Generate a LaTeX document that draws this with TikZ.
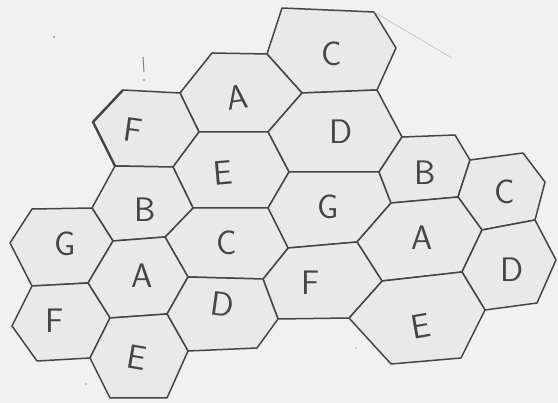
\documentclass[tikz,border=0pt]{standalone}
\usepackage{fontspec}
\definecolor{paper}{HTML}{F1F1F1}
\definecolor{cellfill}{HTML}{E9E9E9}
\definecolor{pencil}{HTML}{454545}
\tikzset{
  hexcell/.style={draw=pencil, fill=cellfill, line width=1.5pt, line join=round},
  letter/.style={text=pencil, font=\sffamily\fontsize{34}{36}\selectfont, inner sep=0pt},
  faint/.style={draw=pencil!40, line width=0.5pt}
}
\begin{document}
\begin{tikzpicture}[x=1pt,y=-1pt]
\fill[paper] (0,0) rectangle (558,403);
\useasboundingbox (0,0) rectangle (558,403);
% vertices
\coordinate (c1) at (282,8);   \coordinate (c2) at (374,12);  \coordinate (c3) at (396,48);
\coordinate (c4) at (377,90);  \coordinate (c5) at (302,93);  \coordinate (c6) at (267,54);
\coordinate (a1) at (212,53);  \coordinate (a4) at (268,132); \coordinate (a5) at (199,132);
\coordinate (a6) at (180,93);
\coordinate (f1) at (123,90);  \coordinate (f4) at (173,167); \coordinate (f5) at (115,166);
\coordinate (f6) at (93,122);
\coordinate (d3) at (402,137); \coordinate (d4) at (379,172); \coordinate (d5) at (289,172);
\coordinate (e4) at (268,208); \coordinate (e5) at (193,208);
\coordinate (g3) at (391,203); \coordinate (g4) at (357,242); \coordinate (g5) at (288,248);
\coordinate (b2) at (455,135); \coordinate (b3) at (470,160); \coordinate (b4) at (458,197);
\coordinate (r2) at (523,153); \coordinate (r3) at (545,182); \coordinate (r4) at (535,220);
\coordinate (r5) at (482,230);
\coordinate (ar4) at (462,272); \coordinate (ar5) at (382,281);
\coordinate (dr3) at (556,260); \coordinate (dr4) at (537,303); \coordinate (dr5) at (485,310);
\coordinate (er4) at (461,358); \coordinate (er5) at (391,364); \coordinate (er6) at (349,318);
\coordinate (fc5) at (278,319); \coordinate (fc6) at (263,279);
\coordinate (cl5) at (188,277); \coordinate (cl6) at (165,237);
\coordinate (bl5) at (113,241); \coordinate (bl6) at (92,208);
\coordinate (gl1) at (32,209);  \coordinate (gl4) at (88,283);  \coordinate (gl5) at (32,286);
\coordinate (gl6) at (10,243);
\coordinate (al4) at (167,314); \coordinate (al5) at (110,318);
\coordinate (dl4) at (257,348); \coordinate (dl5) at (188,351);
\coordinate (fl4) at (90,358);  \coordinate (fl5) at (37,361);  \coordinate (fl6) at (12,326);
\coordinate (el4) at (167,398); \coordinate (el5) at (110,398);
% cells
\draw[hexcell] (c1)--(c2)--(c3)--(c4)--(c5)--(c6)--cycle;
\draw[hexcell] (a1)--(c6)--(c5)--(a4)--(a5)--(a6)--cycle;
\draw[hexcell] (f1)--(a6)--(a5)--(f4)--(f5)--(f6)--cycle;
\draw[hexcell] (c5)--(c4)--(d3)--(d4)--(d5)--(a4)--cycle;
\draw[hexcell] (a5)--(a4)--(d5)--(e4)--(e5)--(f4)--cycle;
\draw[hexcell] (d5)--(d4)--(g3)--(g4)--(g5)--(e4)--cycle;
\draw[hexcell] (d3)--(b2)--(b3)--(b4)--(g3)--(d4)--cycle;
\draw[hexcell] (b3)--(r2)--(r3)--(r4)--(r5)--(b4)--cycle;
\draw[hexcell] (g3)--(b4)--(r5)--(ar4)--(ar5)--(g4)--cycle;
\draw[hexcell] (r5)--(r4)--(dr3)--(dr4)--(dr5)--(ar4)--cycle;
\draw[hexcell] (ar5)--(ar4)--(dr5)--(er4)--(er5)--(er6)--cycle;
\draw[hexcell] (g5)--(g4)--(ar5)--(er6)--(fc5)--(fc6)--cycle;
\draw[hexcell] (e5)--(e4)--(g5)--(fc6)--(cl5)--(cl6)--cycle;
\draw[hexcell] (f5)--(f4)--(e5)--(cl6)--(bl5)--(bl6)--cycle;
\draw[hexcell] (gl1)--(bl6)--(bl5)--(gl4)--(gl5)--(gl6)--cycle;
\draw[hexcell] (bl5)--(cl6)--(cl5)--(al4)--(al5)--(gl4)--cycle;
\draw[hexcell] (cl5)--(fc6)--(fc5)--(dl4)--(dl5)--(al4)--cycle;
\draw[hexcell] (gl5)--(gl4)--(al5)--(fl4)--(fl5)--(fl6)--cycle;
\draw[hexcell] (al5)--(al4)--(dl5)--(el4)--(el5)--(fl4)--cycle;
% doubled stroke on the left of the upper F cell
\draw[draw=pencil, line width=2.4pt] (f1)--(f6)--(f5);
% stray pencil marks
\coordinate (fz) at (452,58);
\draw[faint] (c2)--(fz);
\coordinate (m1) at (143,57); \coordinate (m2) at (144,72);
\draw[draw=pencil!70, line width=1pt] (m1)--(m2);
\fill[pencil!70] (144,80) circle (0.9);
\fill[pencil!60] (54,37) circle (1.1);
\fill[pencil!50] (86,384) circle (0.9);
\fill[pencil!50] (356,348) circle (0.8);
% letters
\node[letter] (tC)  at (332,54)  {C};
\node[letter, rotate=8] (tA)  at (237,97)  {A};
\node[letter, rotate=-8] (tF)  at (133,130) {F};
\node[letter] (tD)  at (341,132) {D};
\node[letter, rotate=5] (tE)  at (223,173) {E};
\node[letter] (tG)  at (328,207) {G};
\node[letter] (tB)  at (425,173) {B};
\node[letter] (tC2) at (505,192) {C};
\node[letter] (tA2) at (422,238) {A};
\node[letter] (tD2) at (512,270) {D};
\node[letter, rotate=10] (tE2) at (421,326) {E};
\node[letter] (tF2) at (311,283) {F};
\node[letter] (tG2) at (65,244)  {G};
\node[letter] (tF3) at (55,321)  {F};
\node[letter] (tA3) at (142,276) {A};
\node[letter, rotate=-10] (tE3) at (137,358) {E};
\node[letter] (tC3) at (227,243) {C};
\node[letter, rotate=-8] (tD3) at (223,304) {D};
\node[letter] (tB2) at (145,210) {B};
\end{tikzpicture}
\end{document}
